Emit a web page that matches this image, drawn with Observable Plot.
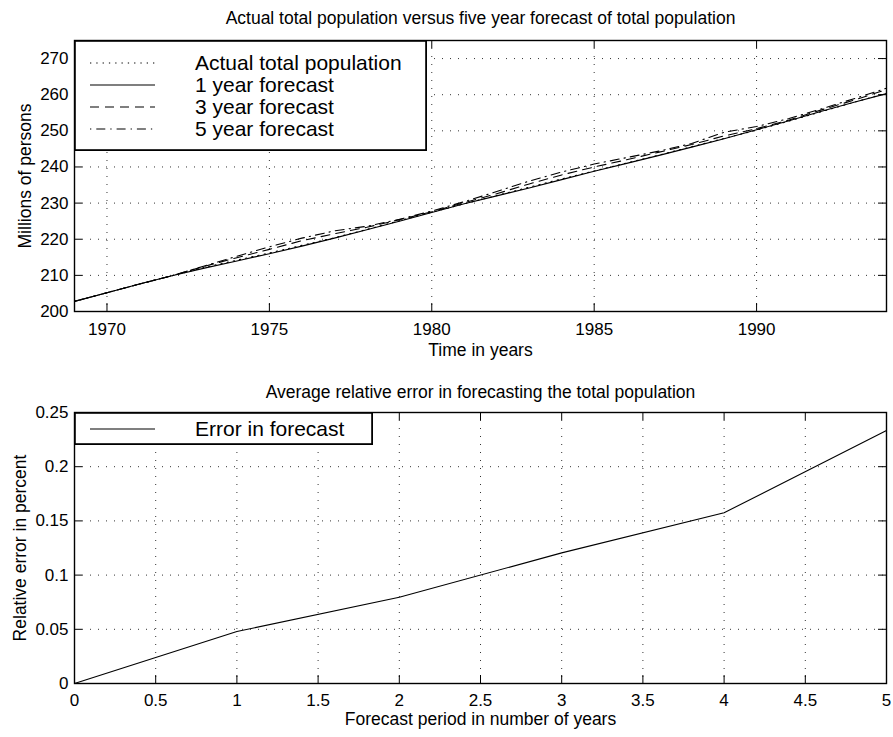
<!DOCTYPE html>
<html><head><meta charset="utf-8">
<script src="https://cdn.jsdelivr.net/npm/d3@7"></script>
<script src="https://cdn.jsdelivr.net/npm/@observablehq/plot@0.6"></script>
<style>
body{margin:0;background:#fff;}
#wrap{position:relative;width:893px;height:737px;background:#fff;}
#wrap svg{position:absolute;left:0;}
</style></head><body><div id="wrap"></div>
<script>
// ---------- data ----------
const years = [1969,1970,1971,1972,1973,1974,1975,1976,1977,1978,1979,1980,1981,1982,1983,1984,1985,1986,1987,1988,1989,1990,1991,1992,1993,1994];
const actualPop = [202.8,205.2,207.6,209.9,212.2,214.2,216.2,218.3,220.4,222.7,225.1,227.5,229.8,232.1,234.4,236.7,238.9,241.1,243.3,245.6,247.9,250.2,252.7,255.3,257.9,260.4];
const forecast1 = [202.8,205.2,207.6,209.9,212.0,214.0,216.0,218.1,220.3,222.6,225.0,227.4,229.8,232.0,234.2,236.5,238.8,241.0,243.2,245.5,247.8,250.3,252.8,255.4,257.9,260.3];
const forecast3 = [202.8,205.2,207.6,209.9,212.5,214.9,217.2,219.6,221.5,223.3,225.4,227.6,230.1,232.6,235.3,237.8,240.0,242.0,244.1,246.2,248.6,250.6,253.0,255.8,258.5,261.4];
const forecast5 = [202.8,205.2,207.6,209.9,212.6,215.3,217.9,220.3,222.3,223.6,225.5,227.8,230.4,233.2,236.1,238.6,240.8,242.6,244.4,246.5,249.6,251.2,253.4,256.1,258.9,261.8];
const seriesNames = ["Actual total population","1 year forecast","3 year forecast","5 year forecast"];
const seriesDash = ["1.3,5","none","9,6","1.3,5,9,5"];

const forecastPeriod = [0,1,2,3,4,5];
const relError = [0,0.048,0.0795,0.1205,0.1575,0.2335];
const errorName = "Error in forecast";

const xTicksTop = [1970,1975,1980,1985,1990];
const yTicksTop = [200,210,220,230,240,250,260,270];
const xTicksBot = [0,0.5,1,1.5,2,2.5,3,3.5,4,4.5,5];
const yTicksBot = [0,0.05,0.1,0.15,0.2,0.25];

const titleTop = "Actual total population versus five year forecast of total population";
const xLabelTop = "Time in years";
const yLabelTop = "Millions of persons";
const titleBot = "Average relative error in forecasting the total population";
const xLabelBot = "Forecast period in number of years";
const yLabelBot = "Relative error in percent";

// ---------- layout ----------
const W = 893, ML = 74, MR = 7;
const frameW = W - ML - MR, frameH = 271, TICK = 8;
const font = '"Liberation Sans", Arial, Helvetica, sans-serif';
const wrap = document.getElementById("wrap");

const popSeries = [actualPop, forecast1, forecast3, forecast5];
const popRows = [];
popSeries.forEach((vals, i) => vals.forEach((v, j) => popRows.push({year: years[j], value: v, series: seriesNames[i]})));
const errRows = forecastPeriod.map((p, i) => ({period: p, err: relError[i]}));

const gridStyle = {stroke: "#000", strokeOpacity: 0.8, strokeWidth: 1, strokeDasharray: "1,7"};
function innerTicks(xt, yt) {
  return [
    Plot.tickX(xt, {x: d => d, stroke: "#000", insetTop: frameH - TICK}),
    Plot.tickX(xt, {x: d => d, stroke: "#000", insetBottom: frameH - TICK}),
    Plot.tickY(yt, {y: d => d, stroke: "#000", insetRight: frameW - TICK}),
    Plot.tickY(yt, {y: d => d, stroke: "#000", insetLeft: frameW - TICK})
  ];
}
const txt = {text: d => d, fontSize: 17.5, lineAnchor: "middle", textAnchor: "middle"};

// ---------- top chart ----------
const topChart = Plot.plot({
  width: W, height: 370,
  marginTop: 40, marginBottom: 59, marginLeft: ML, marginRight: MR,
  style: {fontFamily: font, fontSize: "17px", background: "#fff", color: "#000", overflow: "visible"},
  x: {domain: [1969, 1994]},
  y: {domain: [200, 275]},
  marks: [
    Plot.gridX(xTicksTop, gridStyle),
    Plot.gridY(yTicksTop, gridStyle),
    ...seriesNames.map((s, i) => Plot.line(popRows.filter(d => d.series === s), {
      x: "year", y: "value", stroke: "#000", strokeWidth: 1.1, strokeDasharray: seriesDash[i]
    })),
    ...innerTicks(xTicksTop, yTicksTop),
    Plot.frame({stroke: "#000", strokeWidth: 1.4}),
    Plot.axisX(xTicksTop, {tickSize: 0, tickPadding: 11, tickFormat: d => String(d), fontSize: 17, label: null}),
    Plot.axisY(yTicksTop, {tickSize: 0, tickPadding: 6, tickFormat: d => String(d), fontSize: 17, label: null}),
    Plot.text([xLabelTop], {...txt, frameAnchor: "bottom", dy: 38.5}),
    Plot.text([yLabelTop], {...txt, frameAnchor: "left", rotate: -90, dx: -49}),
    Plot.text([titleTop], {...txt, frameAnchor: "top", dy: -22})
  ]
});
topChart.style.top = "0px";
wrap.appendChild(topChart);

// ---------- bottom chart ----------
const botChart = Plot.plot({
  width: W, height: 367,
  marginTop: 42, marginBottom: 54, marginLeft: ML, marginRight: MR,
  style: {fontFamily: font, fontSize: "17px", background: "#fff", color: "#000", overflow: "visible"},
  x: {domain: [0, 5]},
  y: {domain: [0, 0.25]},
  marks: [
    Plot.gridX(xTicksBot, gridStyle),
    Plot.gridY(yTicksBot, gridStyle),
    Plot.line(errRows, {x: "period", y: "err", stroke: "#000", strokeWidth: 1.1}),
    ...innerTicks(xTicksBot, yTicksBot),
    Plot.frame({stroke: "#000", strokeWidth: 1.4}),
    Plot.axisX(xTicksBot, {tickSize: 0, tickPadding: 10, tickFormat: d => String(d), fontSize: 17, label: null}),
    Plot.axisY(yTicksBot, {tickSize: 0, tickPadding: 6, tickFormat: d => String(d), fontSize: 17, label: null}),
    Plot.text([xLabelBot], {...txt, frameAnchor: "bottom", dy: 36}),
    Plot.text([yLabelBot], {...txt, frameAnchor: "left", rotate: -90, dx: -54}),
    Plot.text([titleBot], {...txt, frameAnchor: "top", dy: -20})
  ]
});
botChart.style.top = "370px";
wrap.appendChild(botChart);

// ---------- legends ----------
function legend(left, top, w, h, names, dashes, rowY) {
  const svg = d3.create("svg").attr("width", w).attr("height", h)
    .style("left", left + "px").style("top", top + "px");
  svg.append("rect").attr("x", 0.9).attr("y", 0.9).attr("width", w - 1.8).attr("height", h - 1.8)
    .attr("fill", "#fff").attr("stroke", "#000").attr("stroke-width", 1.8);
  names.forEach((n, i) => {
    const y = rowY[i];
    svg.append("line").attr("x1", 16).attr("x2", 81).attr("y1", y).attr("y2", y)
      .attr("stroke", "#000").attr("stroke-width", 1.1).attr("stroke-dasharray", dashes[i]);
    svg.append("text").attr("x", 121).attr("y", y).attr("dy", "0.35em")
      .attr("font-family", font).attr("font-size", 21)
      .attr("fill", "#000").text(n);
  });
  wrap.appendChild(svg.node());
}
legend(ML, 40, 353, 111, seriesNames, seriesDash, [23, 45, 67, 89]);
legend(ML, 412, 299, 33, [errorName], ["none"], [17]);
</script>
</body></html>
